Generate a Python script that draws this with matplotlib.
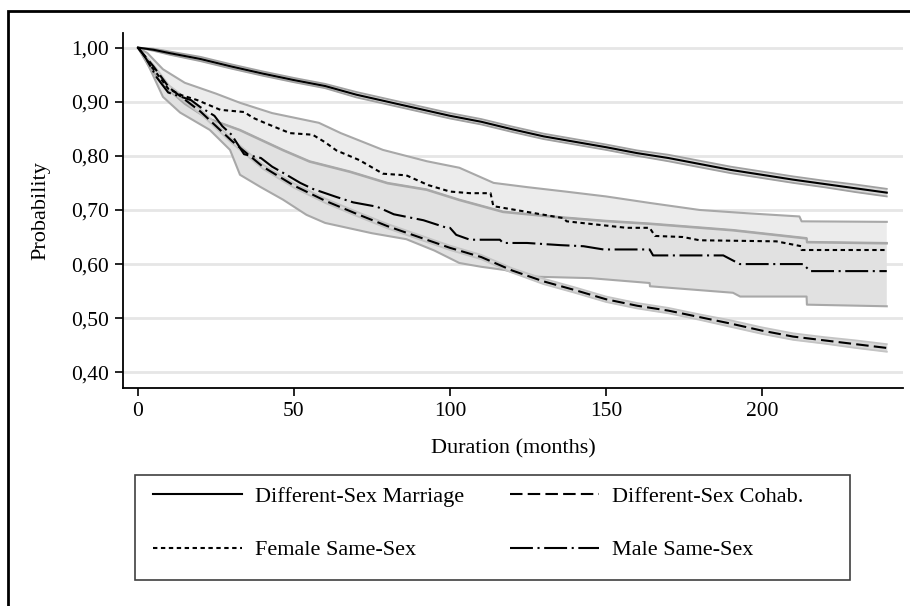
import matplotlib
matplotlib.use("Agg")
import matplotlib.pyplot as plt
from matplotlib.patches import Rectangle
from matplotlib.ticker import FuncFormatter
import numpy as np

plt.rcParams['font.family'] = ['Liberation Serif', 'DejaVu Serif']

# Different-sex marriage (smooth KM curve, narrow CI)
mar_t = [0, 5, 10, 20, 30, 40, 50, 60, 70, 80, 90, 100, 110, 120, 130, 140, 150,
         160, 170, 180, 190, 200, 210, 220, 230, 240]
mar_s = [1.0, 0.996, 0.990, 0.979, 0.965, 0.952, 0.940, 0.929, 0.913, 0.900, 0.887,
         0.874, 0.863, 0.849, 0.836, 0.826, 0.816, 0.805, 0.796, 0.785, 0.774, 0.765,
         0.756, 0.748, 0.740, 0.732]
mar_hw = [0.0, 0.002, 0.003, 0.004, 0.004, 0.004, 0.004, 0.004, 0.005, 0.005, 0.005,
          0.005, 0.005, 0.005, 0.005, 0.005, 0.005, 0.005, 0.006, 0.006, 0.006, 0.006,
          0.006, 0.006, 0.007, 0.007]

# Different-sex cohabitation
coh_t = [0, 5, 10, 20, 30, 40, 50, 60, 70, 80, 90, 100, 110, 120, 130, 140, 150,
         160, 170, 180, 190, 200, 210, 220, 230, 240]
coh_s = [1.0, 0.965, 0.926, 0.882, 0.828, 0.780, 0.745, 0.717, 0.693, 0.670, 0.650,
         0.630, 0.613, 0.588, 0.568, 0.552, 0.535, 0.523, 0.514, 0.502, 0.490, 0.477,
         0.466, 0.459, 0.452, 0.445]
coh_hw = [0.0, 0.003, 0.004, 0.004, 0.004, 0.004, 0.004, 0.004, 0.004, 0.004, 0.004,
          0.004, 0.004, 0.004, 0.005, 0.005, 0.005, 0.005, 0.005, 0.005, 0.006, 0.006,
          0.006, 0.006, 0.007, 0.007]

# Female same-sex (curve vertices, flats and drops)
fem_t = [0, 2, 4, 7, 9.7, 14, 19, 26.4, 34, 37, 41, 48.7, 56, 60, 63.6, 71, 78.5, 86,
         93, 100, 106.4, 113, 113.9, 136.3, 137.4, 156.6, 164, 165.7, 174.7, 180,
         204.6, 212.6, 212.7, 240]
fem_s = [1.0, 0.985, 0.967, 0.945, 0.924, 0.912, 0.903, 0.885, 0.881, 0.870, 0.860,
         0.842, 0.839, 0.825, 0.810, 0.792, 0.767, 0.764, 0.746, 0.734, 0.731, 0.731,
         0.707, 0.685, 0.679, 0.667, 0.667, 0.652, 0.650, 0.644, 0.642, 0.633, 0.626,
         0.626]
fem_hi_t = [0, 3, 8, 15, 25, 32.7, 43, 58, 65, 78.5, 92.6, 103, 114, 125, 137, 150,
            164, 180, 195, 212, 212.7, 240]
fem_hi = [1.0, 0.990, 0.960, 0.935, 0.915, 0.898, 0.879, 0.861, 0.842, 0.811, 0.790,
          0.778, 0.750, 0.742, 0.734, 0.725, 0.713, 0.700, 0.694, 0.688, 0.679, 0.678]
fem_lo_t = [0, 4, 8, 15, 22, 32.7, 46.5, 55, 68, 80, 92.5, 103, 117, 135, 150, 164,
            190.7, 214.3, 214.4, 240]
fem_lo = [1.0, 0.960, 0.930, 0.895, 0.870, 0.848, 0.811, 0.790, 0.771, 0.750, 0.738,
          0.719, 0.697, 0.687, 0.680, 0.675, 0.663, 0.648, 0.641, 0.639]

# Male same-sex
male_t = [0, 2, 3.2, 6, 9.7, 17, 20, 24.5, 27, 30, 34, 39.4, 43, 47, 52, 56, 63.6, 69,
          76.6, 82, 91.5, 99, 100, 102, 106.4, 116, 117, 124.7, 135.4, 142.8, 149.2,
          164, 165.1, 187.6, 192.9, 213.2, 215.4, 240]
male_s = [1.0, 0.985, 0.974, 0.945, 0.917, 0.903, 0.890, 0.874, 0.855, 0.839, 0.803,
          0.796, 0.780, 0.767, 0.750, 0.739, 0.724, 0.714, 0.706, 0.692, 0.681, 0.667,
          0.667, 0.654, 0.645, 0.645, 0.639, 0.639, 0.635, 0.633, 0.627, 0.627, 0.616,
          0.616, 0.600, 0.600, 0.587, 0.587]
male_hi_t = [0, 4, 8, 15, 22, 32.7, 46.5, 55, 68, 80, 92.5, 103, 117, 135, 150, 164,
             190.7, 214.3, 214.4, 240]
male_hi = [1.0, 0.962, 0.931, 0.896, 0.870, 0.847, 0.810, 0.789, 0.770, 0.749, 0.737,
           0.718, 0.696, 0.686, 0.679, 0.674, 0.662, 0.647, 0.640, 0.638]
male_lo_t = [0, 2, 4, 8, 13.5, 23, 29.5, 32.7, 39.4, 46.5, 54, 60, 75, 86, 95, 103, 110,
             117.6, 125, 145, 164, 164.1, 190.7, 193, 214.3, 214.4, 240]
male_lo = [1.0, 0.985, 0.959, 0.909, 0.880, 0.848, 0.811, 0.765, 0.742, 0.719, 0.691,
           0.676, 0.657, 0.646, 0.625, 0.602, 0.595, 0.589, 0.577, 0.574, 0.565, 0.559,
           0.547, 0.540, 0.540, 0.525, 0.522]

labels = ["Different-Sex Marriage", "Different-Sex Cohab.",
          "Female Same-Sex", "Male Same-Sex"]
yticks = [0.4, 0.5, 0.6, 0.7, 0.8, 0.9, 1.0]
xticks = [0, 50, 100, 150, 200]

fig = plt.figure(figsize=(9.1, 6.06), dpi=100)
ax = fig.add_axes([123 / 910, 1 - 388 / 606, 780 / 910, 355 / 606])

band_edge = "#a8a8a8"


def band(t_hi, hi, t_lo, lo, fill, z):
    xs = np.r_[t_hi, t_lo[::-1]]
    ys = np.r_[hi, lo[::-1]]
    ax.fill(xs, ys, color=fill, lw=0, zorder=z)
    ax.plot(t_hi, hi, color=band_edge, lw=1.5, zorder=z + 0.1)
    ax.plot(t_lo, lo, color=band_edge, lw=1.5, zorder=z + 0.1)


band(fem_hi_t, fem_hi, fem_lo_t, fem_lo, "#ececec", 1)
band(male_hi_t, male_hi, male_lo_t, male_lo, "#e1e1e1", 1.5)

# narrow bands
for t, s, hw, edge in [(mar_t, mar_s, mar_hw, "#a0a0a0"), (coh_t, coh_s, coh_hw, "#c4c4c4")]:
    s = np.array(s)
    hw = np.array(hw)
    ax.fill_between(t, s - hw, s + hw, color="#d8d8d8", lw=0, zorder=2)
    ax.plot(t, s + hw, color=edge, lw=1.3, zorder=2.1)
    ax.plot(t, s - hw, color=edge, lw=1.3, zorder=2.1)

l1, = ax.plot(mar_t, mar_s, color="black", lw=1.5, zorder=5)
l2, = ax.plot(coh_t, coh_s, color="black", lw=1.5, dashes=(6, 2.5), zorder=5)
l3, = ax.plot(fem_t, fem_s, color="black", lw=1.5, dashes=(2.1, 1.7), zorder=5)
l4, = ax.plot(male_t, male_s, color="black", lw=1.5, dashes=(11, 2.2, 1, 2.2), zorder=5)

ax.set_xlim(-4.8, 245.2)
ax.set_ylim(0.371, 1.027)
ax.set_xticks(xticks)
ax.set_yticks(yticks)
ax.yaxis.set_major_formatter(FuncFormatter(lambda v, p: f"{v:.2f}".replace(".", ",")))
ax.grid(axis="y", color="#e6e6e6", lw=2, zorder=0)
ax.set_axisbelow(True)
for side in ["top", "right"]:
    ax.spines[side].set_visible(False)
for side in ["left", "bottom"]:
    ax.spines[side].set_linewidth(1.3)
ax.tick_params(direction="out", length=6, width=1.2, labelsize=15.5, pad=4)
ax.set_xlabel("Duration (months)", fontsize=16, labelpad=13.5)
ax.set_ylabel("Probability", fontsize=16, labelpad=15)

# legend box and figure frame
fig.patches.append(Rectangle((135 / 910, 1 - 580 / 606), 715 / 910, 105 / 606,
                             transform=fig.transFigure, fill=False,
                             edgecolor="#404040", lw=1.2))
fig.patches.append(Rectangle((8 / 910, -0.05), 1.1, 1 - 11 / 606 + 0.05,
                             transform=fig.transFigure, fill=False,
                             edgecolor="black", lw=2))

fig.legend([l1, l3, l2, l4], [labels[0], labels[2], labels[1], labels[3]], ncol=2,
           frameon=False, fontsize=16, loc="upper left",
           bbox_to_anchor=(153 / 910, 1 - 486 / 606), borderpad=0, borderaxespad=0,
           handlelength=4.0, handletextpad=0.6, columnspacing=2.05, labelspacing=1.5)

fig.savefig("out.png", dpi=100)
